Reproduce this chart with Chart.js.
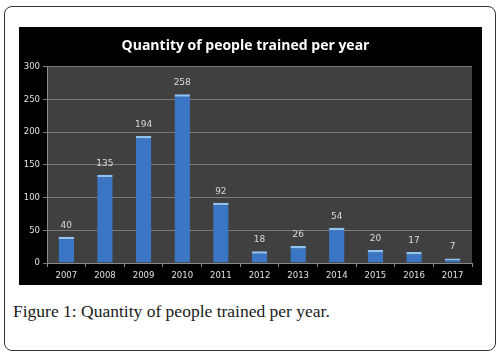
<!DOCTYPE html>
<html>
<head>
<meta charset="utf-8">
<script src="https://cdn.jsdelivr.net/npm/chart.js@4/dist/chart.umd.min.js"></script>
<style>
  html, body { margin: 0; padding: 0; background: #fff; }
  body { width: 503px; height: 358px; position: relative; overflow: hidden; }
  .frame { position: absolute; left: 4px; top: 6px; width: 492px; height: 345px;
           border: 1px solid #333; border-radius: 8px; box-sizing: border-box; }
  .plotbox { position: absolute; left: 19px; top: 27px; width: 463px; height: 258px; background: #000; }
  .caption { position: absolute; left: 13px; top: 301px; font-family: "Liberation Serif", serif;
             font-size: 17.5px; color: #1a1a1a; white-space: nowrap; }
</style>
</head>
<body>
<div class="frame"></div>
<div class="plotbox"><canvas id="c" width="463" height="258"></canvas></div>
<div class="caption">Figure 1: Quantity of people trained per year.</div>
<script>
const years = ['2007', '2008', '2009', '2010', '2011', '2012', '2013', '2014', '2015', '2016', '2017'];
const trained = [40, 135, 194, 258, 92, 18, 26, 54, 20, 17, 7];
const yTicks = [0, 50, 100, 150, 200, 250, 300];

// value labels above each bar
const valueLabels = {
  id: 'valueLabels',
  afterDatasetsDraw(chart) {
    const ctx = chart.ctx;
    const meta = chart.getDatasetMeta(0);
    ctx.save();
    ctx.fillStyle = '#d9d9d9';
    ctx.font = '9px "DejaVu Sans", sans-serif';
    ctx.textAlign = 'center';
    ctx.textBaseline = 'bottom';
    meta.data.forEach((bar, i) => {
      ctx.fillText(String(trained[i]), bar.x, bar.y - 7);
    });
    ctx.restore();
  }
};

// gray plot background
const plotBg = {
  id: 'plotBg',
  beforeDraw(chart) {
    const a = chart.chartArea;
    chart.ctx.save();
    chart.ctx.fillStyle = '#404040';
    chart.ctx.fillRect(a.left, a.top, a.right - a.left, a.bottom - a.top);
    chart.ctx.restore();
  }
};

function barFill(context) {
  const chart = context.chart;
  const el = context.element;
  if (!el || !chart.chartArea || !Number.isFinite(el.x) || !Number.isFinite(el.width)) return '#3a76c4';
  const half = el.width / 2;
  const g = chart.ctx.createLinearGradient(el.x - half, 0, el.x + half, 0);
  g.addColorStop(0, '#2c5da3');
  g.addColorStop(0.35, '#4384d6');
  g.addColorStop(0.65, '#3f7dcc');
  g.addColorStop(1, '#234f8e');
  return g;
}

new Chart(document.getElementById('c'), {
  type: 'bar',
  data: {
    labels: years,
    datasets: [{
      data: trained,
      backgroundColor: barFill,
      borderColor: '#8fc3f2',
      borderWidth: { top: 2.5, left: 0, right: 0, bottom: 0 },
      borderSkipped: 'bottom',
      barPercentage: 0.8,
      categoryPercentage: 0.5
    }]
  },
  options: {
    responsive: false,
    animation: false,
    layout: { padding: { left: 0, right: 10, top: 0, bottom: 0 } },
    plugins: {
      legend: { display: false },
      tooltip: { enabled: false },
      title: {
        display: true,
        text: 'Quantity of people trained per year',
        color: '#ffffff',
        font: { family: '"Open Sans", "DejaVu Sans", sans-serif', size: 14, weight: 'bold' },
        padding: { top: 11, bottom: 12 }
      }
    },
    scales: {
      x: {
        grid: { display: true, drawOnChartArea: false, color: '#8a8a8a', tickLength: 4, offset: true },
        border: { color: '#8a8a8a' },
        ticks: { color: '#e0e0e0', font: { family: '"DejaVu Sans", sans-serif', size: 8.5 }, padding: 4 },
        afterFit(s) { s.height = 22; }
      },
      y: {
        min: 0, max: 300,
        afterBuildTicks(s) { s.ticks = yTicks.map(v => ({ value: v })); },
        grid: { color: '#7a7a7a', tickLength: 4 },
        border: { color: '#8a8a8a' },
        ticks: { color: '#e0e0e0', font: { family: '"DejaVu Sans", sans-serif', size: 8.5 }, padding: 3 },
        afterFit(s) { s.width = 28; }
      }
    }
  },
  plugins: [plotBg, valueLabels]
});
</script>
</body>
</html>
